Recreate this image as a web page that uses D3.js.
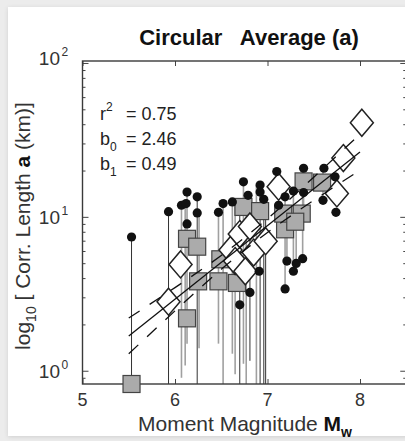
<!DOCTYPE html>
<html>
<head>
<meta charset="utf-8">
<script src="https://cdn.jsdelivr.net/npm/d3@7"></script>
<style>
  body { margin: 0; background: #ececec; }
  svg { display: block; font-family: "Liberation Sans", Arial, sans-serif; }
</style>
</head>
<body>
<svg id="chart" width="405" height="441"></svg>
<script>
// gray squares: circular average
const squareMw = [5.53, 6.13, 6.13, 6.24, 6.25, 6.47, 6.49, 6.67, 6.74, 6.92, 7.19, 7.17, 7.37, 7.30, 7.39, 7.59];
const squareA = [0.82, 2.19, 7.2, 6.4, 3.81, 3.81, 5.3, 3.72, 11.6, 10.9, 8.3, 10.5, 10.5, 9.3, 17.0, 16.7];

// open diamonds
const diamondMw = [5.93, 6.06, 6.60, 6.65, 6.76, 6.70, 6.81, 6.85, 6.98, 7.12, 7.75, 7.82, 8.02];
const diamondA = [2.81, 4.91, 6.1, 5.16, 4.43, 7.73, 8.66, 5.86, 6.95, 15.7, 14.2, 24.1, 40.9];

// black dots
const circleMw = [5.53, 5.93, 6.13, 6.07, 6.12, 6.24, 6.24, 6.13, 6.47, 6.52, 6.62, 6.74, 6.79, 6.92, 6.92, 6.96, 7.10,
  7.19, 7.12, 7.28, 7.39, 7.39, 7.60, 7.61, 7.73, 7.74, 6.81, 6.70, 6.91, 7.21, 7.31, 7.38, 7.28, 7.19];
const circleA = [7.4, 10.8, 14.5, 11.9, 12.2, 13.5, 10.6, 9.0, 10.7, 12.2, 12.5, 16.9, 13.8, 16.1, 14.5, 13.0, 19.7,
  13.5, 11.9, 14.7, 14.4, 20.7, 12.8, 20.7, 18.2, 10.7, 3.23, 2.68, 4.43, 5.16, 4.98, 5.35, 4.43, 3.40];

// vertical range lines
const stemMw = [5.53, 5.93, 6.07, 6.11, 6.13, 6.24, 6.26, 6.47, 6.52, 6.62, 6.65, 6.70, 6.74, 6.77, 6.81, 6.88, 6.92,
  6.96, 6.98, 7.12, 7.19, 7.21, 7.28, 7.31, 7.38, 7.39, 7.60];
const stemTop = [7.4, 10.8, 11.9, 11.9, 14.5, 13.5, 10.6, 10.7, 12.2, 12.5, 12.0, 12.5, 16.9, 13.8, 13.8, 16.1, 16.1,
  13.0, 13.0, 19.7, 13.5, 10.5, 14.7, 10.5, 20.7, 14.4, 20.7];
const stemBottom = [0.82, 0.82, 0.9, 1.08, 1.5, 0.82, 1.4, 1.5, 0.82, 1.29, 0.95, 0.82, 1.11, 0.82, 1.16, 0.82, 0.82,
  0.82, 0.82, 8.3, 3.4, 5.16, 4.43, 4.98, 5.35, 10.5, 12.8];
const stemDark = [1, 1, 0, 0, 0, 1, 0, 0, 0, 0, 0, 1, 0, 0, 1, 0, 1, 1, 1, 0, 0, 0, 0, 0, 0, 0, 0];

// regression fit and confidence band
const fitMw = [5.5, 8.0];
const fitA = [1.68, 26.4];
const bandMw = [5.5, 6.0, 6.5, 7.0, 7.5, 8.0];
const bandUpper = [2.2, 3.47, 5.61, 9.73, 18.1, 34.5];
const bandLower = [1.29, 2.45, 4.56, 7.91, 12.8, 20.1];

const stats = [["r", "2", "= 0.75"], ["b", "0", "= 2.46"], ["b", "1", "= 0.49"]];
const xTicks = [5, 6, 7, 8];
const yTicks = [1, 10, 100];
const yMinor = [0.9, 2, 3, 4, 5, 6, 7, 8, 9, 20, 30, 40, 50, 60, 70, 80, 90];

const svg = d3.select("#chart");

const defs = svg.append("defs");
const shadow = defs.append("filter").attr("id", "shadow").attr("x", -0.1).attr("y", -0.1).attr("width", 1.2).attr("height", 1.2);
shadow.append("feDropShadow").attr("dx", 0).attr("dy", 1).attr("stdDeviation", 2).attr("flood-color", "#000").attr("flood-opacity", 0.12);

svg.append("rect")
  .attr("x", 8).attr("y", 7).attr("width", 420).attr("height", 429)
  .attr("fill", "#fff")
  .attr("filter", "url(#shadow)");

const x = d3.scaleLinear().domain([5, 8.5]).range([82.5, 406.25]);
const y = d3.scaleLog().domain([0.82, 103]).range([384, 61]);

// ticks, pointing inward
function tickAxis(axis, values, size, tx, ty) {
  svg.append("g")
    .attr("transform", `translate(${tx},${ty})`)
    .call(axis.tickValues(values).tickSizeInner(size).tickSizeOuter(0).tickFormat(""))
    .call((g) => g.select(".domain").remove())
    .selectAll("line").attr("stroke", "#444").attr("stroke-width", 1);
}
tickAxis(d3.axisLeft(y), yTicks, -6, 82.5, 0);
tickAxis(d3.axisLeft(y), yMinor, -3, 82.5, 0);
tickAxis(d3.axisRight(y), yTicks, -6, 406.25, 0);
tickAxis(d3.axisRight(y), yMinor, -3, 406.25, 0);
tickAxis(d3.axisBottom(x), xTicks, -5, 0, 384);
tickAxis(d3.axisTop(x), xTicks, -5, 0, 61);

// range lines
svg.append("g")
  .selectAll("line")
  .data(stemMw)
  .join("line")
  .attr("x1", (d) => x(d))
  .attr("x2", (d) => x(d))
  .attr("y1", (d, i) => y(stemTop[i]))
  .attr("y2", (d, i) => y(stemBottom[i]))
  .attr("stroke", (d, i) => (stemDark[i] ? "#333" : "#a0a0a0"))
  .attr("stroke-width", (d, i) => (stemDark[i] ? 1 : 1.6));

// frame
svg.append("rect")
  .attr("x", 82.5).attr("y", 61)
  .attr("width", 406.25 - 82.5).attr("height", 384 - 61)
  .attr("fill", "none")
  .attr("stroke", "#3a3a3a")
  .attr("stroke-width", 1.4);

const sq = 17;
svg.append("g")
  .selectAll("rect")
  .data(squareMw)
  .join("rect")
  .attr("x", (d) => x(d) - sq / 2)
  .attr("y", (d, i) => y(squareA[i]) - sq / 2)
  .attr("width", sq)
  .attr("height", sq)
  .attr("fill", "#ababab")
  .attr("stroke", "#444")
  .attr("stroke-width", 1.2);

const dw = 11.5, dh = 13.5;
svg.append("g")
  .selectAll("path")
  .data(diamondMw)
  .join("path")
  .attr("d", (d, i) => {
    const cx = x(d), cy = y(diamondA[i]);
    return `M${cx},${cy - dh}L${cx + dw},${cy}L${cx},${cy + dh}L${cx - dw},${cy}Z`;
  })
  .attr("fill", "#fff")
  .attr("stroke", "#222")
  .attr("stroke-width", 1.5);

svg.append("g")
  .selectAll("circle")
  .data(circleMw)
  .join("circle")
  .attr("cx", (d) => x(d))
  .attr("cy", (d, i) => y(circleA[i]))
  .attr("r", 4.6)
  .attr("fill", "#111");

// fit lines
const line = d3.line().x((d) => x(d[0])).y((d) => y(d[1]));
const bandLine = d3.line().curve(d3.curveNatural).x((d) => x(d[0])).y((d) => y(d[1]));

svg.append("path")
  .attr("d", line(fitMw.map((m, i) => [m, fitA[i]])))
  .attr("fill", "none").attr("stroke", "#111").attr("stroke-width", 1.3);

[bandUpper, bandLower].forEach((band) => {
  svg.append("path")
    .attr("d", bandLine(bandMw.map((m, i) => [m, band[i]])))
    .attr("fill", "none").attr("stroke", "#111").attr("stroke-width", 1.3)
    .attr("stroke-dasharray", "13,12");
});

// tick labels
svg.append("g")
  .selectAll("text")
  .data(xTicks)
  .join("text")
  .attr("x", (d) => x(d))
  .attr("y", 406)
  .attr("text-anchor", "middle")
  .attr("font-size", 18)
  .attr("fill", "#333")
  .text((d) => d);

const yLab = svg.append("g")
  .selectAll("g")
  .data(yTicks)
  .join("g")
  .attr("transform", (d) => `translate(60,${d == 100 ? 65 : y(d) + 7})`);
yLab.append("text")
  .attr("text-anchor", "end")
  .attr("font-size", 19)
  .attr("fill", "#333")
  .text("10");
yLab.append("text")
  .attr("x", 1.5)
  .attr("y", -9)
  .attr("font-size", 12)
  .attr("fill", "#333")
  .text((d) => Math.round(Math.log10(d)));

// stats
stats.forEach((s, i) => {
  const t = svg.append("text")
    .attr("x", 100)
    .attr("y", 120 + i * 25)
    .attr("font-size", 18)
    .attr("fill", "#222");
  t.append("tspan").text(s[0]);
  t.append("tspan")
    .attr("font-size", 12)
    .attr("dy", i == 0 ? -9 : 6)
    .text(s[1]);
  t.append("tspan")
    .attr("x", 126)
    .attr("y", 120 + i * 25)
    .text(s[2]);
});

// title
svg.append("text")
  .attr("x", 249)
  .attr("y", 45)
  .attr("text-anchor", "middle")
  .attr("font-size", 22)
  .attr("font-weight", "bold")
  .attr("fill", "#111")
  .attr("xml:space", "preserve")
  .text("Circular   Average (a)");

// x label
const xl = svg.append("text")
  .attr("x", 245)
  .attr("y", 431)
  .attr("text-anchor", "middle")
  .attr("font-size", 21)
  .attr("fill", "#333");
xl.append("tspan").text("Moment Magnitude ");
xl.append("tspan").attr("font-weight", "bold").attr("fill", "#111").text("M");
xl.append("tspan").attr("font-weight", "bold").attr("fill", "#111").attr("font-size", 14).attr("dy", 6).text("w");

// y label
const yl = svg.append("text")
  .attr("transform", "translate(30,226) rotate(-90)")
  .attr("text-anchor", "middle")
  .attr("font-size", 21)
  .attr("fill", "#333");
yl.append("tspan").text("log");
yl.append("tspan").attr("font-size", 14).attr("dy", 6).text("10");
yl.append("tspan").attr("dy", -6).text(" [ Corr. Length ");
yl.append("tspan").attr("font-weight", "bold").attr("fill", "#111").text("a");
yl.append("tspan").text(" (km)]");
</script>
</body>
</html>
